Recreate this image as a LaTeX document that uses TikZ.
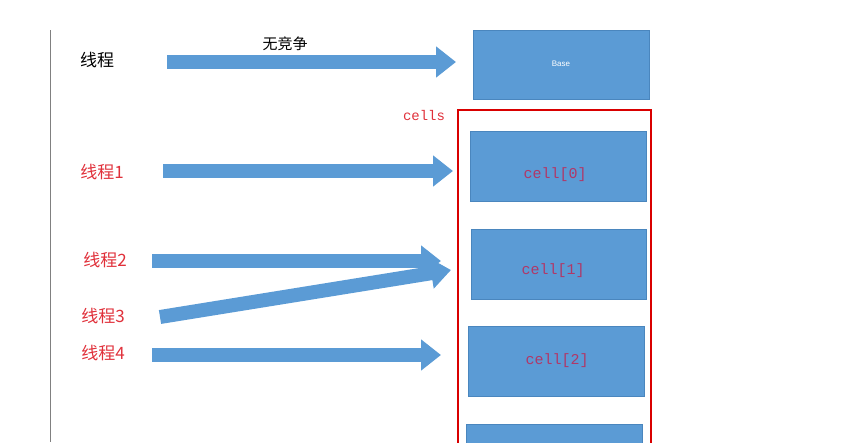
\documentclass[tikz,border=0pt]{standalone}
\usepackage{fontspec}
\setmainfont{Liberation Sans}
\setmonofont{Liberation Mono}
\newfontfamily\cjk{Noto Sans CJK SC}
\usetikzlibrary{arrows.meta}
\definecolor{boxblue}{HTML}{5B9BD5}
\definecolor{boxedge}{HTML}{4A86BE}
\definecolor{redtxt}{HTML}{E0303A}
\definecolor{celltxt}{HTML}{B03868}
\tikzset{
  x=1pt,y=-1pt,
  blk/.style={fill=boxblue,draw=boxedge,line width=0.6pt,anchor=north west,inner sep=0pt},
  thr/.style={font=\cjk\fontsize{17}{17}\selectfont,redtxt},
  big/.style={line width=14pt,boxblue,-{Triangle[width=30pt,length=20pt]}},
  celllbl/.style={font=\ttfamily\fontsize{15}{15}\selectfont,celltxt}
}
\begin{document}
\begin{tikzpicture}
\useasboundingbox (0,0) rectangle (854,442);
\begin{scope}
\clip (0,0) rectangle (854,442);
\draw[gray,line width=0.8pt] (50,30) -- (50,442);
\node[blk,minimum width=176pt,minimum height=69pt] (base) at (473,30) {};
\node[white,font=\fontsize{8}{8}\selectfont] at (561,64) {Base};
\draw[red!85!black,line width=1.6pt] (458,110) rectangle (651,460);
\node[font=\ttfamily\fontsize{14}{14}\selectfont,redtxt] (cells) at (424,115) {cells};
\node[blk,minimum width=176pt,minimum height=70pt] (c0) at (470,131) {};
\node[celllbl] at (555,175) {cell[0]};
\node[blk,minimum width=175pt,minimum height=70pt] (c1) at (471,229) {};
\node[celllbl] at (553,271) {cell[1]};
\node[blk,minimum width=176pt,minimum height=70pt] (c2) at (468,326) {};
\node[celllbl] at (557,361) {cell[2]};
\node[blk,minimum width=176pt,minimum height=40pt] (c3) at (466,424) {};
\node[font=\cjk\fontsize{17}{17}\selectfont] (t0) at (97,60) {线程};
\node[font=\cjk\fontsize{15}{15}\selectfont] (nc) at (285,44) {无竞争};
\node[thr] (t1) at (102,172) {线程1};
\node[thr] (t2) at (105,260) {线程2};
\node[thr] (t3) at (103,316) {线程3};
\node[thr] (t4) at (103,353) {线程4};
\coordinate (a0s) at (167,62); \coordinate (a0e) at (456,62);
\coordinate (a1s) at (163,171); \coordinate (a1e) at (453,171);
\coordinate (a2s) at (152,261); \coordinate (a2e) at (441,261);
\coordinate (a3s) at (160,317); \coordinate (a3e) at (451,270);
\coordinate (a4s) at (152,355); \coordinate (a4e) at (441,355);
\draw[big] (a0s) -- (a0e);
\draw[big] (a1s) -- (a1e);
\draw[big] (a2s) -- (a2e);
\draw[big] (a3s) -- (a3e);
\draw[big] (a4s) -- (a4e);
\end{scope}
\end{tikzpicture}
\end{document}
